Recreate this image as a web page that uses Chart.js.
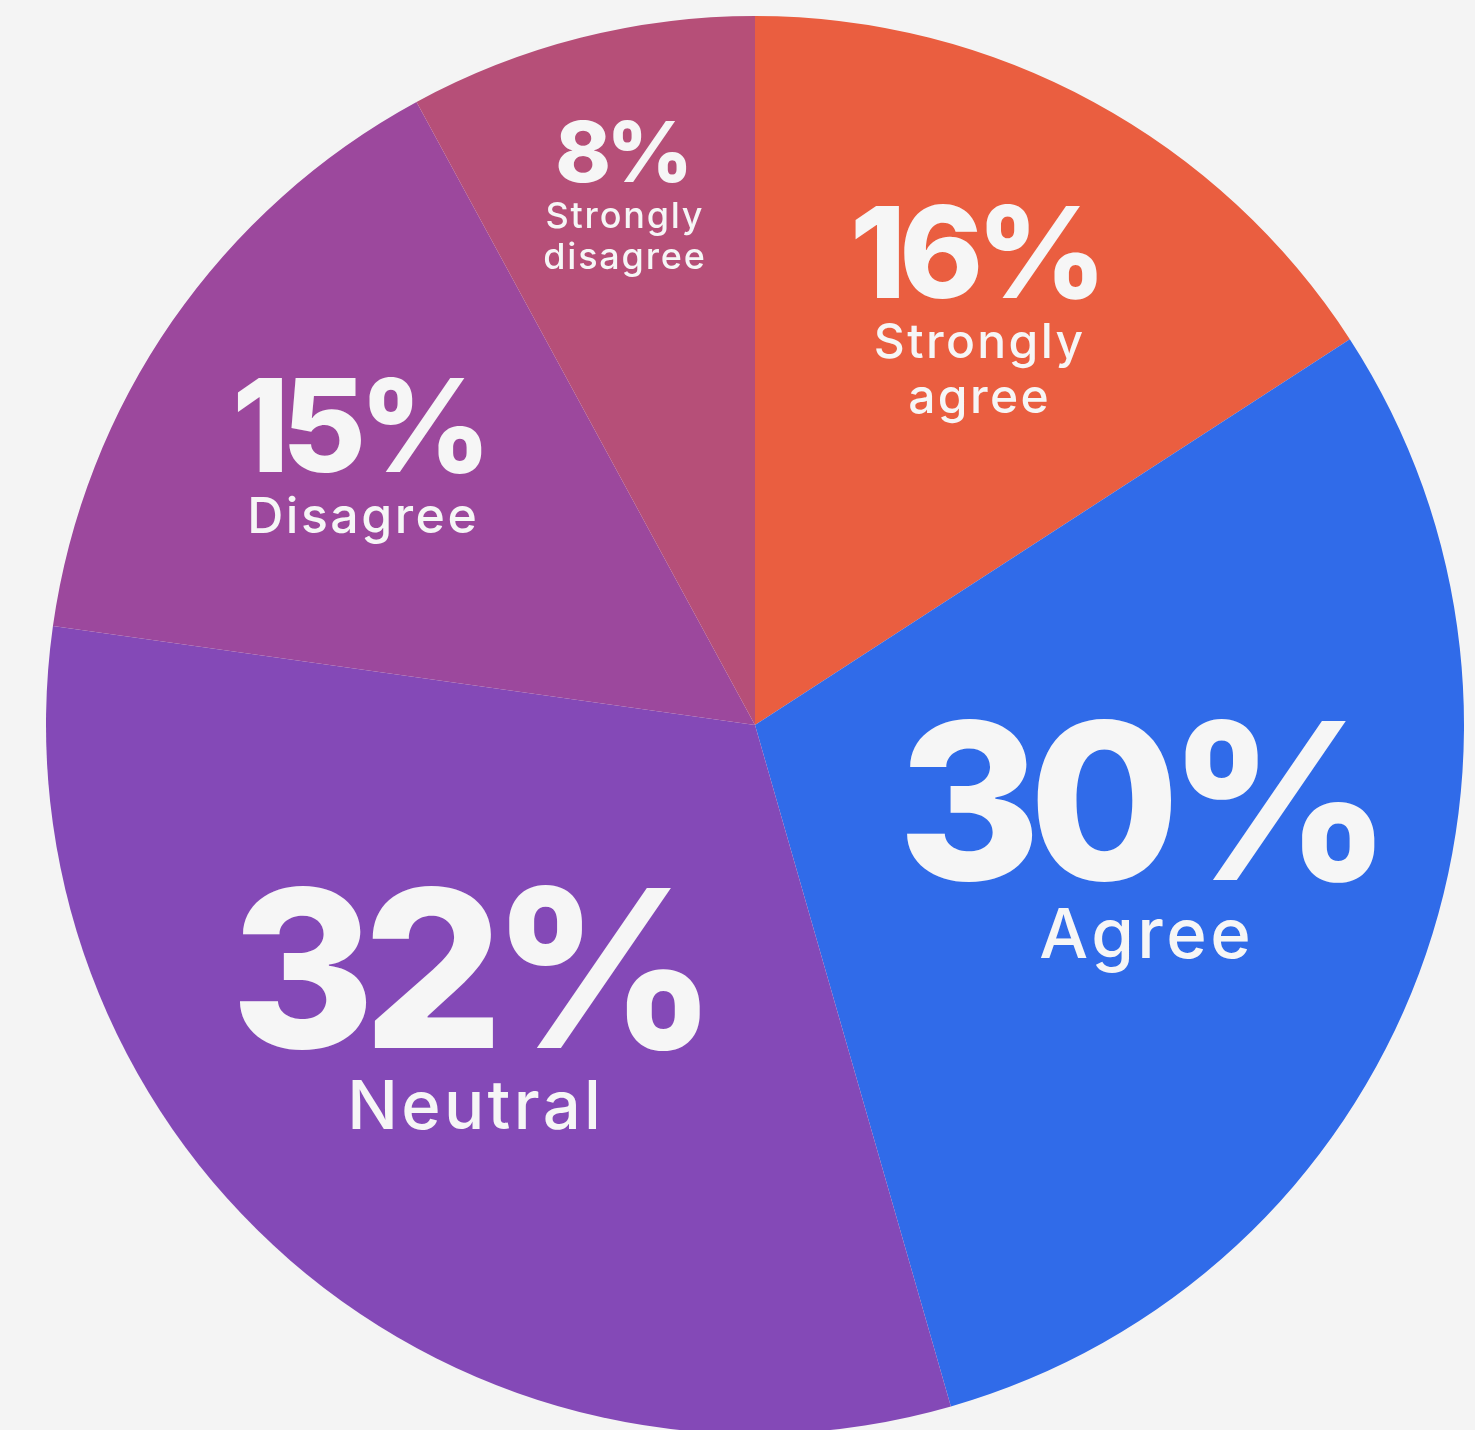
<!DOCTYPE html>
<html>
<head>
<meta charset="utf-8">
<title>Survey responses</title>
<script src="https://cdn.jsdelivr.net/npm/chart.js@4/dist/chart.umd.min.js"></script>
<style>
  html, body { margin: 0; padding: 0; background: #f4f4f4; overflow: hidden; }
  #wrap { position: absolute; left: 0; top: 0; width: 1475px; height: 1440px; }
</style>
</head>
<body>
<div id="wrap"><canvas id="pie" width="1475" height="1440"></canvas></div>
<script>
// answers, clockwise from 12 o'clock
const categories = ['Strongly agree', 'Agree', 'Neutral', 'Disagree', 'Strongly disagree'];
const shares = [16, 30, 32, 15, 8];
const sliceColors = ['#ea5e40', '#306be9', '#8449b7', '#9c489d', '#b64f78'];

// per-slice label look: font sizes, distance from centre (fraction of radius),
// small angle nudge in degrees, gap under the number
const labelStyle = [
    { pct: 127, name: 48, r: 0.68, da: -0.9, gap: 25, wrap: true },
    { pct: 218, name: 69, r: 0.592, da: 1.2, gap: 28, wrap: false },
    { pct: 220, name: 67, r: 0.604, da: 0, gap: 32, wrap: false },
    { pct: 129, name: 50, r: 0.659, da: -2, gap: 25, wrap: false },
    { pct: 84, name: 36, r: 0.788, da: 0.7, gap: 20, wrap: true }
];

const FONT = 'Inter, "Noto Sans", sans-serif';

// fillText with letter spacing, kept centred on x
function spacedText(ctx, text, x, y, spacing) {
    ctx.letterSpacing = spacing + 'px';
    ctx.fillText(text, x + spacing / 2, y);
    ctx.letterSpacing = '0px';
}

// writes "NN%" and the answer inside each slice
const sliceLabels = {
    id: 'sliceLabels',
    afterDatasetsDraw(chart) {
        const ctx = chart.ctx;
        const arcs = chart.getDatasetMeta(0).data;
        ctx.save();
        ctx.fillStyle = '#f6f6f6';
        ctx.textAlign = 'center';
        ctx.textBaseline = 'alphabetic';
        arcs.forEach((arc, i) => {
            const st = labelStyle[i];
            const mid = (arc.startAngle + arc.endAngle) / 2 + st.da * Math.PI / 180;
            const x = arc.x + Math.cos(mid) * arc.outerRadius * st.r;
            const y = arc.y + Math.sin(mid) * arc.outerRadius * st.r;

            ctx.font = '800 ' + st.pct + 'px ' + FONT;
            spacedText(ctx, shares[i] + '%', x, y, -0.055 * st.pct);

            ctx.font = '500 ' + st.name + 'px ' + FONT;
            const cap = ctx.measureText('H').actualBoundingBoxAscent;
            const lines = st.wrap ? categories[i].split(' ') : [categories[i]];
            let by = y + st.gap + cap;
            lines.forEach(line => {
                spacedText(ctx, line, x, by, 0.05 * st.name);
                by += st.name * 1.15;
            });
        });
        ctx.restore();
    }
};

new Chart(document.getElementById('pie'), {
    type: 'pie',
    data: {
        labels: categories,
        datasets: [{
            data: shares,
            backgroundColor: sliceColors,
            borderWidth: 0,
            hoverOffset: 0,
            offset: 0
        }]
    },
    options: {
        responsive: false,
        animation: false,
        events: [],
        layout: { padding: { left: 46, right: 11, top: 16, bottom: 6 } },
        plugins: {
            legend: { display: false },
            tooltip: { enabled: false }
        }
    },
    plugins: [sliceLabels]
});
</script>
</body>
</html>
